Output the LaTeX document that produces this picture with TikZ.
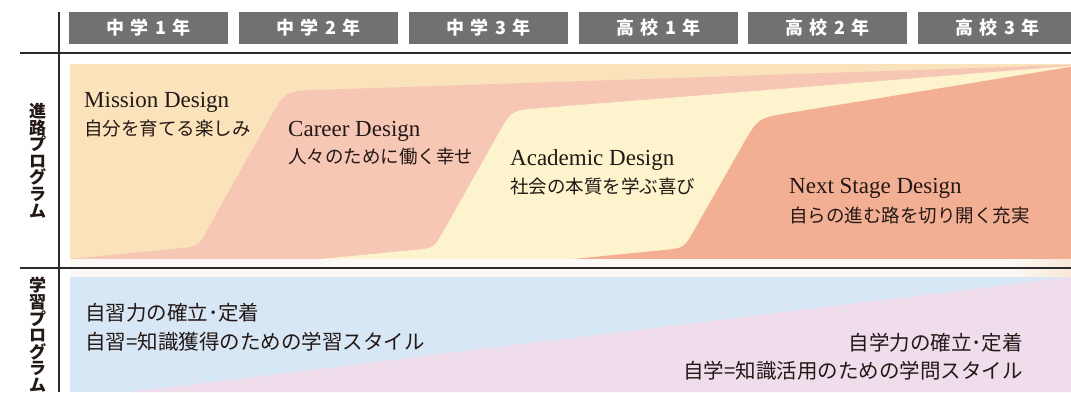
\documentclass[tikz,border=0pt]{standalone}
\usepackage{fontspec}
\setmainfont{Liberation Serif}
\newfontfamily\jp{Noto Sans CJK JP}
\usetikzlibrary{calc}
\definecolor{beigec}{HTML}{FAE2BA}
\definecolor{pinkc}{HTML}{F7C7B5}
\definecolor{yelc}{HTML}{FDF3CD}
\definecolor{salc}{HTML}{F3AF94}
\definecolor{bluec}{HTML}{D8E7F5}
\definecolor{lavc}{HTML}{F0DDEC}
\definecolor{hdrc}{HTML}{717171}
\definecolor{inkc}{HTML}{231815}
\definecolor{stripc}{HTML}{FCF8F5}
\definecolor{glowc}{HTML}{F8E8D6}
\definecolor{rulec}{HTML}{2B2B2B}
\newcommand\hsp{\hspace{6.5pt}}
\tikzset{
 hdr/.style={fill=hdrc, text=white, minimum width=159pt, minimum height=31.4pt, inner sep=0pt, font=\jp\bfseries\fontsize{18}{18}\selectfont},
 lat/.style={inner sep=0pt, text=inkc, font=\fontsize{23}{23}\selectfont},
 jpt/.style={inner sep=0pt, text=inkc, font=\jp\fontsize{18.5}{18.5}\selectfont},
 jpl/.style={inner sep=0pt, text=inkc, font=\jp\fontsize{20.5}{20.5}\selectfont},
 vlab/.style={inner sep=0pt, text=inkc, align=center, font=\jp\bfseries\fontsize{17}{16.6}\selectfont},
 rulel/.style={draw=rulec, line width=1.4pt},
}
\begin{document}
\begin{tikzpicture}[x=1pt,y=-1pt]
\useasboundingbox (0,0) rectangle (1071,392);
\clip (0,0) rectangle (1071,392);
\fill[white] (0,0) rectangle (1071,392);

% upper band
\fill[beigec] (70,64) rectangle (1071,259);
\coordinate (pT) at (70,259);
\coordinate (pC1) at (198,246.5);
\coordinate (pC2) at (285,91);
\coordinate (pR) at (1071,64.8);
\fill[pinkc] (pT) -- ($(pC1)!20pt!(pT)$) .. controls (pC1) .. ($(pC1)!20pt!(pC2)$)
  -- ($(pC2)!34pt!(pC1)$) .. controls (pC2) .. ($(pC2)!34pt!(pR)$) -- (pR) -- (1071,259) -- cycle;
\coordinate (yT) at (321,259);
\coordinate (yC1) at (434,248);
\coordinate (yC2) at (511.5,110.4);
\coordinate (yR) at (1071,65.8);
\fill[yelc] (yT) -- ($(yC1)!20pt!(yT)$) .. controls (yC1) .. ($(yC1)!20pt!(yC2)$)
  -- ($(yC2)!28pt!(yC1)$) .. controls (yC2) .. ($(yC2)!28pt!(yR)$) -- (yR) -- (1071,259) -- cycle;
\coordinate (sT) at (573,259);
\coordinate (sC1) at (684,248);
\coordinate (sC2) at (758,118);
\coordinate (sR) at (1071,66.8);
\fill[salc] (sT) -- ($(sC1)!20pt!(sT)$) .. controls (sC1) .. ($(sC1)!20pt!(sC2)$)
  -- ($(sC2)!32pt!(sC1)$) .. controls (sC2) .. ($(sC2)!32pt!(sR)$) -- (sR) -- (1071,259) -- cycle;

% strip between bands
\fill[stripc] (70,259) rectangle (1071,277);
\shade[left color=stripc, right color=glowc] (1010,259) rectangle (1071,277);

% lower band
\fill[bluec] (70,277) rectangle (1071,392);
\fill[lavc] (130,392) -- (1071,277) -- (1071,392) -- cycle;

% header boxes
\node[hdr] (h1) at (148.5,28) {中\hsp 学\hsp 1\hsp 年};
\node[hdr] (h2) at (318.5,28) {中\hsp 学\hsp 2\hsp 年};
\node[hdr] (h3) at (488.5,28) {中\hsp 学\hsp 3\hsp 年};
\node[hdr] (h4) at (658.5,28) {高\hsp 校\hsp 1\hsp 年};
\node[hdr] (h5) at (827.5,28) {高\hsp 校\hsp 2\hsp 年};
\node[hdr] (h6) at (997.5,28) {高\hsp 校\hsp 3\hsp 年};

% rules
\draw[rulel] (59,12) -- (59,392);
\draw[rulel] (20,53) -- (1071,53);
\draw[rulel] (20,268) -- (1071,268);

% row labels
\node[vlab] (r1) at (37.5,160.5) {進\\路\\プ\\ロ\\グ\\ラ\\ム};
\node[vlab, anchor=north] (r2) at (37.5,277) {学\\習\\プ\\ロ\\グ\\ラ\\ム};

% stage texts
\node[lat, anchor=base west] (m1) at (84,107) {Mission Design};
\node[jpt, anchor=west] (m2) at (84,128) {自分を育てる楽しみ};
\node[lat, anchor=base west] (c1) at (288,136) {Career Design};
\node[jpt, anchor=west] (c2) at (288,157) {人々のために働く幸せ};
\node[lat, anchor=base west] (a1) at (510,165) {Academic Design};
\node[jpt, anchor=west] (a2) at (510,186) {社会の本質を学ぶ喜び};
\node[lat, anchor=base west] (n1) at (789,193.5) {Next Stage Design};
\node[jpt, anchor=west] (n2) at (789,215) {自らの進む路を切り開く充実};

% study texts
\node[jpl, anchor=west] (s1) at (85,313) {自習力の確立･定着};
\node[jpl, anchor=west] (s2) at (85,342) {自習=知識獲得のための学習スタイル};
\node[jpl, anchor=east] (t1) at (1023,342.5) {自学力の確立･定着};
\node[jpl, anchor=east] (t2) at (1023,371) {自学=知識活用のための学問スタイル};
\end{tikzpicture}
\end{document}
